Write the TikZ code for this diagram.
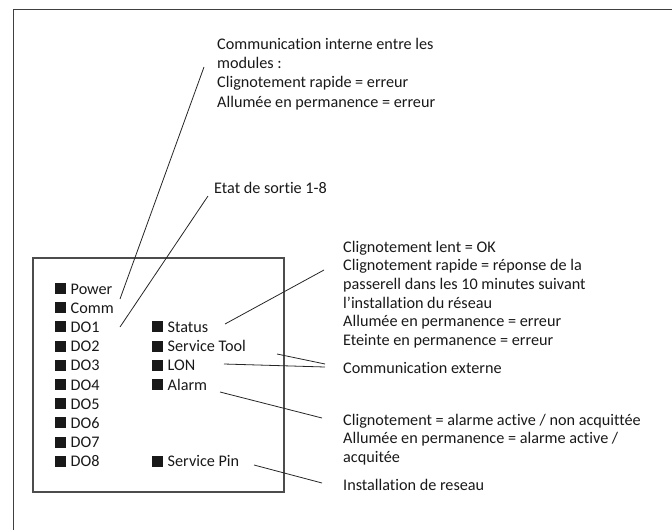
\documentclass[tikz,border=0pt]{standalone}
\usepackage{fontspec}
\setmainfont{Carlito}[Ligatures={NoCommon}]
\newcommand\ledsq{\rule{11pt}{11pt}\hspace{4.5pt}}
\begin{document}
\begin{tikzpicture}[x=1pt,y=-1pt,
  txt/.style={font=\fontsize{16.2}{19.3}\selectfont, inner sep=0pt, anchor=base west, align=left, text=black!90},
  led/.style={txt},
  lead/.style={draw=black!85, line width=0.8pt},
  frame/.style={draw=black!75, line width=1pt}]
\useasboundingbox (0,0) rectangle (672,530);
% outer frame (open at right and bottom)
\draw[frame] (13,530) -- (13,9.5) -- (672,9.5);
% inner module box
\draw[draw=black!70, line width=1.1pt] (33,258) rectangle (284,492);
% left column
\foreach \n/\t [count=\i from 0] in {power/Power,comm/Comm,do1/DO1,do2/DO2,do3/DO3,do4/DO4,do5/DO5,do6/DO6,do7/DO7,do8/DO8}
  \node[led] (\n) at (55,294+19.2*\i) {\ledsq\t};
% right column
\node[led] (status) at (152,332.4) {\ledsq Status};
\node[led] (stool) at (152,351.6) {\ledsq Service Tool};
\node[led] (lon) at (152,370.8) {\ledsq LON};
\node[led] (alarm) at (152,390) {\ledsq Alarm};
\node[led] (spin) at (152,466.8) {\ledsq Service Pin};
% annotations (multi-line nodes: base = last line)
\node[txt] (tcomm) at (217,107) {Communication interne entre les\\modules :\\Clignotement rapide = erreur\\Allumée en permanence = erreur};
\node[txt] (tdo) at (214,193) {Etat de sortie 1-8};
\node[txt, font=\fontsize{16.2}{18.7}\selectfont] (tstatus) at (343,345.5) {Clignotement lent = OK\\Clignotement rapide = réponse de la\\passerell dans les 10 minutes suivant\\l’installation du réseau\\Allumée en permanence = erreur\\Eteinte en permanence = erreur};
\node[txt] (text) at (343,373) {Communication externe};
\node[txt, font=\fontsize{16.2}{18.5}\selectfont] (talarm) at (343,462) {Clignotement = alarme active / non acquittée\\Allumée en permanence = alarme active /\\acquitée};
\node[txt] (tinst) at (343,490) {Installation de reseau};
% connector end points
\coordinate (a1) at (120,299);  \coordinate (b1) at (204,67);
\coordinate (a2) at (120,327);  \coordinate (b2) at (208,196);
\coordinate (a3) at (225,324);  \coordinate (b3) at (324,270);
\coordinate (a4) at (277,354);  \coordinate (b4) at (325,364);
\coordinate (a5) at (224,364);  \coordinate (b5) at (325,367);
\coordinate (a6) at (220,392);  \coordinate (b6) at (322,418);
\coordinate (a7) at (254,465);  \coordinate (b7) at (322,483);
\draw[lead] (a1) -- (b1);
\draw[lead] (a2) -- (b2);
\draw[lead] (a3) -- (b3);
\draw[lead] (a4) -- (b4);
\draw[lead] (a5) -- (b5);
\draw[lead] (a6) -- (b6);
\draw[lead] (a7) -- (b7);
\end{tikzpicture}
\end{document}
